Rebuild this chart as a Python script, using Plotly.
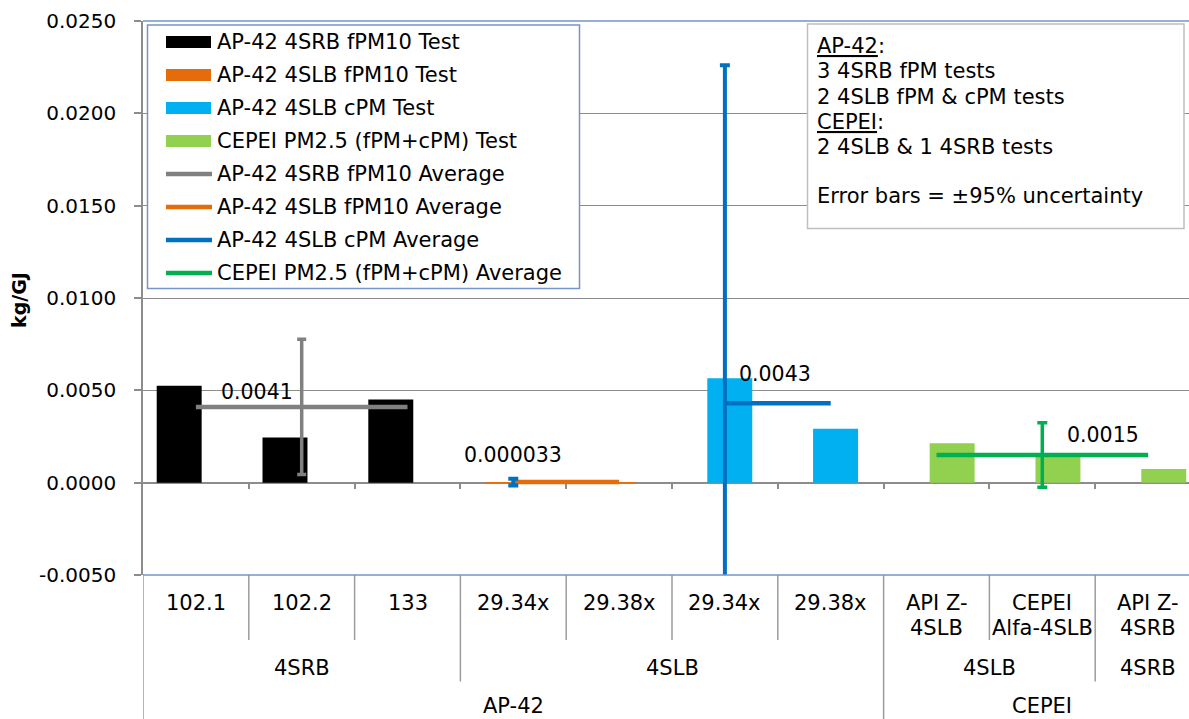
import plotly.graph_objects as go

# ---- data -------------------------------------------------------------
categories = ["102.1", "102.2", "133", "29.34x", "29.38x", "29.34x", "29.38x",
              "API Z-<br>4SLB", "CEPEI<br>Alfa-4SLB", "API Z-<br>4SRB"]
level2_groups = [("4SRB", 0, 2), ("4SLB", 3, 6), ("4SLB", 7, 8), ("4SRB", 9, 9)]
level3_groups = [("AP-42", 0, 6), ("CEPEI", 7, 9)]

srb_fpm10_x = [0, 1, 2]
srb_fpm10 = [0.00525, 0.00245, 0.00451]
slb_fpm10_x = [3, 4]
slb_fpm10 = [0.000030, 0.000036]
slb_cpm_x = [5, 6]
slb_cpm = [0.00566, 0.00292]
cepei_x = [7, 8, 9]
cepei_pm25 = [0.00214, 0.00155, 0.00074]

avg_srb_fpm10 = 0.0041
avg_slb_fpm10 = 0.000033
avg_slb_cpm = 0.0043
avg_cepei = 0.0015

err_srb_fpm10 = 0.00366
err_slb_fpm10 = 0.00018
err_slb_cpm = 0.0183
err_cepei = 0.00175

y_tickvals = [-0.005, 0.0, 0.005, 0.010, 0.015, 0.020, 0.025]
y_ticktext = ["-0.0050", "0.0000", "0.0050", "0.0100", "0.0150", "0.0200", "0.0250"]

# ---- styling ----------------------------------------------------------
FONT = "DejaVu Sans"
FS = 20
FS_TXT = 21
W, H = 1189, 719
L, R, T, B = 143, 0, 21, 144
PW, PH = W - L - R, H - T - B
COLW = 105.8                      # pixel width of one category column
X_RANGE = [-0.5, -0.5 + PW / COLW]
BAR_W = 0.425

C_BLACK = "#000000"
C_ORANGE = "#E46C0A"
C_LBLUE = "#00B0F0"
C_LGREEN = "#92D050"
C_GRAY = "#808080"
C_BLUE = "#0070C0"
C_GREEN = "#00B050"
C_GRID = "#8C8C8C"
C_FRAME = "#7395C9"
C_DIV = "#9C9C9C"


def px_x(px):
    return (px - L) / PW


def px_y(py):
    return (H - B - py) / PH


fig = go.Figure()


def add_bars(xs, ys, color, slot):
    centre = -0.158 + slot * 0.102
    fig.add_trace(go.Bar(x=xs, y=ys, marker=dict(color=color, line=dict(width=0)),
                         width=BAR_W, offset=centre - BAR_W / 2, showlegend=False))


add_bars(srb_fpm10_x, srb_fpm10, C_BLACK, 0)
add_bars(slb_fpm10_x, slb_fpm10, C_ORANGE, 1)
add_bars(slb_cpm_x, slb_cpm, C_LBLUE, 2)
add_bars(cepei_x, cepei_pm25, C_LGREEN, 3)


def add_average(xs, avg, color):
    fig.add_trace(go.Scatter(x=xs, y=[avg] * len(xs), mode="lines",
                             line=dict(color=color, width=4.5), showlegend=False))


add_average(srb_fpm10_x, avg_srb_fpm10, C_GRAY)
add_average(slb_fpm10_x, avg_slb_fpm10, C_ORANGE)
add_average(slb_cpm_x, avg_slb_cpm, C_BLUE)
add_average(cepei_x, avg_cepei, C_GREEN)


def add_error(x, avg, err, color, thick, cap):
    fig.add_trace(go.Scatter(x=[x], y=[avg], mode="markers",
                             marker=dict(size=1, opacity=0),
                             error_y=dict(type="data", array=[err], visible=True,
                                          color=color, thickness=thick, width=cap),
                             showlegend=False))


add_error(1, avg_srb_fpm10, err_srb_fpm10, C_GRAY, 3.5, 4.5)
add_error(3, avg_slb_fpm10, err_slb_fpm10, C_BLUE, 4, 5)
add_error(5, avg_slb_cpm, err_slb_cpm, C_BLUE, 4, 5)
add_error(8, avg_cepei, err_cepei, C_GREEN, 3.5, 5)

# ---- value labels for the averages --------------------------------------
annotations = []
for x, val, txt, shift in [(0.58, avg_srb_fpm10, f"{avg_srb_fpm10:.4f}", 15),
                           (3.0, avg_slb_fpm10, f"{avg_slb_fpm10:.6f}", 27),
                           (5.47, avg_slb_cpm, f"{avg_slb_cpm:.4f}", 29),
                           (8.57, avg_cepei, f"{avg_cepei:.4f}", 20)]:
    annotations.append(dict(x=x, y=val, xref="x", yref="y", text=txt, showarrow=False,
                            yshift=shift, font=dict(family=FONT, size=20.5, color="black")))

# ---- multi-level category axis ------------------------------------------
for i, lab in enumerate(categories):
    parts = lab.split("<br>")
    for j, part in enumerate(parts):
        annotations.append(dict(x=i, y=px_y(603 + 25 * j), xref="x", yref="paper",
                                text=part, showarrow=False, yanchor="middle",
                                font=dict(family=FONT, size=FS_TXT, color="black")))
for lab, a, b in level2_groups:
    annotations.append(dict(x=(a + b) / 2, y=px_y(668), xref="x", yref="paper", text=lab,
                            showarrow=False, yanchor="middle",
                            font=dict(family=FONT, size=FS_TXT, color="black")))
for lab, a, b in level3_groups:
    annotations.append(dict(x=(a + b) / 2, y=px_y(706), xref="x", yref="paper", text=lab,
                            showarrow=False, yanchor="middle",
                            font=dict(family=FONT, size=FS_TXT, color="black")))

shapes = []
lvl2_bounds = [g[2] + 0.5 for g in level2_groups[:-1]]
lvl3_bounds = [g[2] + 0.5 for g in level3_groups[:-1]]
for k in range(len(categories) - 1):
    bx = k + 0.5
    if bx in lvl3_bounds:
        bottom = H
    elif bx in lvl2_bounds:
        bottom = 681.5
    else:
        bottom = 640
    shapes.append(dict(type="line", xref="x", yref="paper", x0=bx, x1=bx,
                       y0=0, y1=px_y(bottom), line=dict(color=C_DIV, width=1.5)))
shapes.append(dict(type="line", xref="x", yref="paper", x0=-0.5, x1=-0.5,
                   y0=0, y1=px_y(H), line=dict(color=C_DIV, width=1.5)))

# plot-area frame top and bottom
for yy in (0, 1):
    shapes.append(dict(type="line", xref="paper", yref="paper", x0=0, x1=1, y0=yy, y1=yy,
                       line=dict(color=C_FRAME, width=1.5)))

# ---- legend box ----------------------------------------------------------
legend_items = [
    ("bar", C_BLACK, "AP-42 4SRB fPM10 Test"),
    ("bar", C_ORANGE, "AP-42 4SLB fPM10 Test"),
    ("bar", C_LBLUE, "AP-42 4SLB cPM Test"),
    ("bar", C_LGREEN, "CEPEI PM2.5 (fPM+cPM) Test"),
    ("line", C_GRAY, "AP-42 4SRB fPM10 Average"),
    ("line", C_ORANGE, "AP-42 4SLB fPM10 Average"),
    ("line", C_BLUE, "AP-42 4SLB cPM Average"),
    ("line", C_GREEN, "CEPEI PM2.5 (fPM+cPM) Average"),
]
shapes.append(dict(type="rect", xref="paper", yref="paper",
                   x0=px_x(147.5), x1=px_x(579.5), y0=px_y(288.5), y1=px_y(25),
                   fillcolor="white", line=dict(color=C_FRAME, width=1.5), layer="above"))
for r, (kind, col, txt) in enumerate(legend_items):
    yc = 42 + 33 * r
    if kind == "bar":
        shapes.append(dict(type="rect", xref="paper", yref="paper",
                           x0=px_x(166), x1=px_x(211), y0=px_y(yc + 6), y1=px_y(yc - 6),
                           fillcolor=col, line=dict(width=0), layer="above"))
    else:
        shapes.append(dict(type="line", xref="paper", yref="paper",
                           x0=px_x(166), x1=px_x(212), y0=px_y(yc), y1=px_y(yc),
                           line=dict(color=col, width=4.5), layer="above"))
    annotations.append(dict(x=px_x(215), y=px_y(yc), xref="paper", yref="paper", text=txt,
                            showarrow=False, xanchor="left", yanchor="middle",
                            font=dict(family=FONT, size=FS_TXT, color="black")))

# ---- notes box -----------------------------------------------------------
shapes.append(dict(type="rect", xref="paper", yref="paper",
                   x0=px_x(807.5), x1=px_x(1184), y0=px_y(228.5), y1=px_y(24),
                   fillcolor="white", line=dict(color="#BFBFBF", width=1.5), layer="above"))
notes = [(46, "<u>AP-42</u>:"), (71.5, "3 4SRB fPM tests"), (96.5, "2 4SLB fPM & cPM tests"),
         (121.5, "<u>CEPEI</u>:"), (146.5, "2 4SLB & 1 4SRB tests"),
         (196.5, "Error bars = ±95% uncertainty")]
for yc, txt in notes:
    annotations.append(dict(x=px_x(815), y=px_y(yc), xref="paper", yref="paper", text=txt,
                            showarrow=False, xanchor="left", yanchor="middle",
                            font=dict(family=FONT, size=FS_TXT, color="black")))

# y-axis title
annotations.append(dict(x=px_x(19), y=px_y(300), xref="paper", yref="paper",
                        text="<b>kg/GJ</b>", textangle=-90, showarrow=False,
                        xanchor="center", yanchor="middle",
                        font=dict(family=FONT, size=19, color="black")))

fig.update_layout(
    width=W, height=H,
    margin=dict(l=L, r=R, t=T, b=B),
    paper_bgcolor="white", plot_bgcolor="white",
    barmode="overlay",
    showlegend=False,
    font=dict(family=FONT, size=FS, color="black"),
    xaxis=dict(range=X_RANGE, anchor="free", position=5 / 30,
               showgrid=False, zeroline=False, showline=True, linecolor=C_GRID, linewidth=1.5,
               tickvals=[k + 0.5 for k in range(len(categories) - 1)],
               ticks="outside", ticklen=6, tickcolor=C_GRID, tickwidth=1.5,
               showticklabels=False, layer="below traces"),
    yaxis=dict(range=[-0.005, 0.025], tickvals=y_tickvals, ticktext=y_ticktext,
               showgrid=True, gridcolor=C_GRID, gridwidth=1.2, zeroline=False,
               showline=True, linecolor=C_GRID, linewidth=1.5,
               ticks="outside", ticklen=7, tickcolor=C_GRID, tickwidth=1.5,
               ticklabelstandoff=14, layer="below traces",
               tickfont=dict(family=FONT, size=FS, color="black")),
    shapes=shapes,
    annotations=annotations,
)

fig.write_html("out.html")
